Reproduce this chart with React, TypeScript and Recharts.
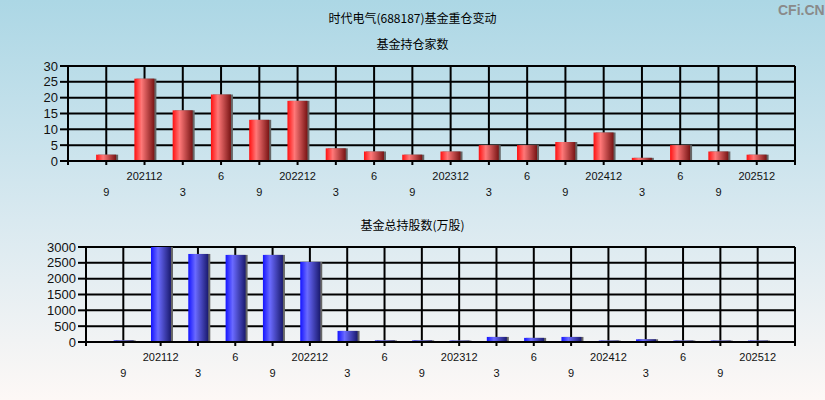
import React from 'react';
import { BarChart, Bar, XAxis, YAxis, CartesianGrid } from 'recharts';

// report periods (quarter end), 2021-09 .. 2025-12
const periods = ['9', '202112', '3', '6', '9', '202212', '3', '6', '9', '202312', '3', '6', '9', '202412', '3', '6', '9', '202512'];
const fundCounts = [2, 26, 16, 21, 13, 19, 4, 3, 2, 3, 5, 5, 6, 9, 1, 5, 3, 2];
const fundShares = [50, 3000, 2780, 2750, 2750, 2530, 350, 50, 50, 45, 160, 130, 160, 45, 85, 45, 45, 45];
const countTicks = [0, 5, 10, 15, 20, 25, 30];
const shareTicks = [0, 500, 1000, 1500, 2000, 2500, 3000];
const slotTicks = [0, 1, 2, 3, 4, 5, 6, 7, 8, 9, 10, 11, 12, 13, 14, 15, 16, 17, 18, 19];

const countData = periods.map((label, i) => ({ pos: i + 1, label, value: fundCounts[i] }));
const shareData = periods.map((label, i) => ({ pos: i + 1, label, value: fundShares[i] }));

const tickFont = '"Liberation Sans", Arial, sans-serif';
const cjkFont = '"Noto Sans CJK SC", "Noto Sans", sans-serif';

function PeriodTick({ x, y, payload }: any) {
  const label = periods[payload.value - 1];
  if (!label) return <g />;
  const upper = payload.value % 2 === 0;
  return (
    <text x={x} y={y + (upper ? 15 : 31)} textAnchor="middle" fontSize={11} fill="#111" fontFamily={tickFont}>
      {label}
    </text>
  );
}

function makeShape(grad: string) {
  return (props: any) => {
    const { x, y, width, height } = props;
    if (!height || height <= 0) return <g />;
    return (
      <g>
        <rect x={x + 2} y={y} width={width} height={height} fill="#666" />
        <rect x={x} y={y} width={width} height={height} fill={`url(#${grad})`} />
      </g>
    );
  };
}

const RedBar = makeShape('redGrad');
const BlueBar = makeShape('blueGrad');

function Panel({ data, ticks, max, yWidth, top, bottom, shape }: any) {
  return (
    <BarChart
      width={825}
      height={200}
      data={data}
      margin={{ top, right: 30, left: 0, bottom }}
    >
      <defs>
        <linearGradient id="redGrad" x1="0" y1="0" x2="1" y2="0">
          <stop offset="0" stopColor="#ff1010" />
          <stop offset="0.35" stopColor="#ff7878" />
          <stop offset="1" stopColor="#781414" />
        </linearGradient>
        <linearGradient id="blueGrad" x1="0" y1="0" x2="1" y2="0">
          <stop offset="0" stopColor="#1414ff" />
          <stop offset="0.35" stopColor="#6a6aff" />
          <stop offset="1" stopColor="#1a1a6e" />
        </linearGradient>
      </defs>
      <CartesianGrid stroke="#000" strokeWidth={2} strokeDasharray="" />
      <XAxis
        type="number"
        dataKey="pos"
        domain={[0, 19]}
        ticks={slotTicks}
        interval={0}
        height={30}
        tickSize={4}
        tickMargin={0}
        tick={<PeriodTick />}
        axisLine={{ stroke: '#000', strokeWidth: 2 }}
        tickLine={{ stroke: '#000', strokeWidth: 2 }}
        allowDataOverflow
      />
      <YAxis
        domain={[0, max]}
        ticks={ticks}
        interval={0}
        width={yWidth}
        tickSize={8}
        tickMargin={2}
        tick={{ fontSize: 13, fill: '#111', fontFamily: tickFont }}
        axisLine={{ stroke: '#000', strokeWidth: 2 }}
        tickLine={{ stroke: '#000', strokeWidth: 2 }}
        allowDataOverflow
      />
      <Bar dataKey="value" barSize={20} isAnimationActive={false} shape={shape} />
    </BarChart>
  );
}

const titleStyle: React.CSSProperties = {
  position: 'absolute',
  left: 0,
  width: 825,
  textAlign: 'center',
  fontSize: 12,
  lineHeight: '14px',
  color: '#000',
  fontFamily: cjkFont,
};

export default function App() {
  return (
    <div
      style={{
        position: 'absolute',
        left: 0,
        top: 0,
        width: 825,
        height: 400,
        overflow: 'hidden',
        background: 'linear-gradient(to bottom, #acd7e5 0%, #d9e9f0 55%, #fdf8f6 100%)',
      }}
    >
      <div style={{ ...titleStyle, top: 11 }}>时代电气(688187)基金重仓变动</div>
      <div style={{ ...titleStyle, top: 37 }}>基金持仓家数</div>
      <div style={{ ...titleStyle, top: 218 }}>基金总持股数(万股)</div>
      <div
        style={{
          position: 'absolute',
          left: 778,
          top: 2,
          fontSize: 14,
          fontWeight: 'bold',
          color: '#8a8a8a',
          fontFamily: tickFont,
        }}
      >
        CFi.CN
      </div>
      <div style={{ position: 'absolute', left: 0, top: 0 }}>
        <Panel data={countData} ticks={countTicks} max={30} yWidth={68} top={66} bottom={9} shape={RedBar} />
      </div>
      <div style={{ position: 'absolute', left: 0, top: 200 }}>
        <Panel data={shareData} ticks={shareTicks} max={3000} yWidth={86} top={47} bottom={28} shape={BlueBar} />
      </div>
    </div>
  );
}
